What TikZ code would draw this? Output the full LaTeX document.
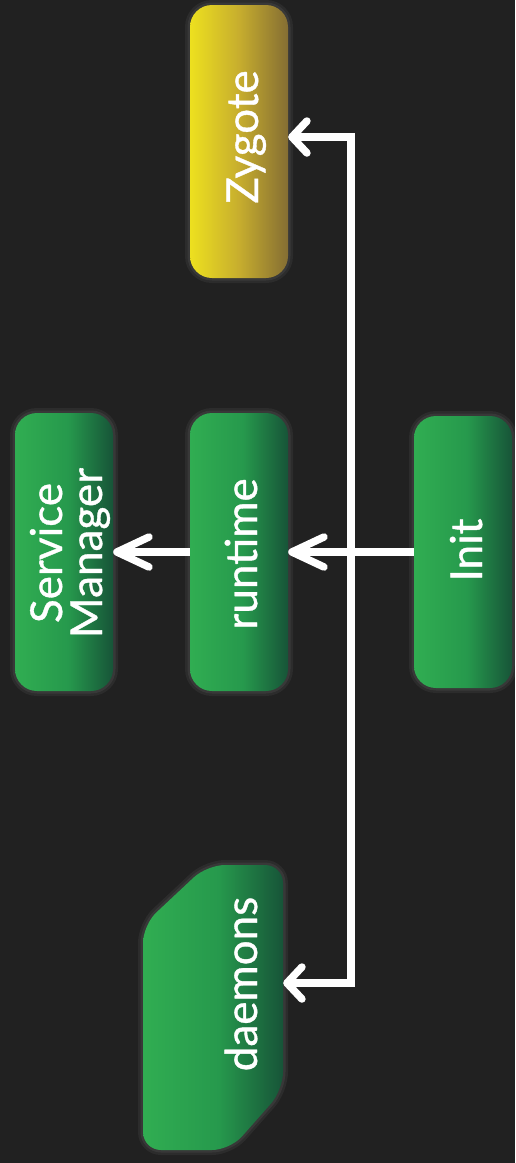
\documentclass[tikz,border=0pt]{standalone}
\usepackage{fontspec}
\setmainfont{Lato}
\newfontfamily\lblfont{Lato}[FakeBold=0.8]
\usetikzlibrary{arrows.meta}
\definecolor{bg}{RGB}{33,33,33}
\pgfdeclarehorizontalshading{greenbox}{100bp}{rgb(0bp)=(0.19,0.68,0.32); rgb(25bp)=(0.19,0.68,0.32); rgb(52bp)=(0.15,0.60,0.30); rgb(75bp)=(0.09,0.33,0.22); rgb(100bp)=(0.09,0.33,0.22)}
\pgfdeclarehorizontalshading{yellowbox}{100bp}{rgb(0bp)=(0.93,0.88,0.12); rgb(25bp)=(0.93,0.88,0.12); rgb(50bp)=(0.78,0.68,0.18); rgb(75bp)=(0.52,0.43,0.20); rgb(100bp)=(0.52,0.43,0.20)}
\tikzset{
  flatbarb/.tip={Straight Barb[length=15pt,width=32pt,round]},
  deepbarb/.tip={Straight Barb[length=32pt,width=30pt,round]},
  glow/.style={preaction={draw=white,draw opacity=0.05,line width=10pt},
               preaction={draw=white,draw opacity=0.06,line width=5pt}},
  box/.style={rectangle, rounded corners=22pt, minimum width=98pt, inner sep=0pt, glow},
  greenb/.style={box, shading=greenbox},
  yellowb/.style={box, shading=yellowbox},
  lbl/.style={text=white, font=\lblfont\fontsize{44}{40}\selectfont, rotate=90, anchor=base, align=center, inner sep=0pt},
  link/.style={draw=white, line width=7.5pt}
}
\begin{document}
\begin{tikzpicture}[x=1pt,y=-1pt]
\fill[bg] (0,0) rectangle (515,1163);
\useasboundingbox (0,0) rectangle (515,1163);
% boxes
\node[yellowb, minimum height=273pt] (zygote) at (239,141.5) {};
\node[greenb, minimum height=278pt] (sm) at (64,552) {};
\node[greenb, minimum height=278pt] (runtime) at (239,552) {};
\node[greenb, minimum height=272pt] (init) at (463,552) {};
\path[shading=greenbox, rounded corners=18pt, glow]
  (245,865) -- (283,865) -- (283,1090) -- (230,1150) -- (143,1150) -- (143,925) -- (207,865) -- cycle;
\node[minimum width=140pt, minimum height=285pt, inner sep=0pt] (daemons) at (213,1007.5) {};
% labels
\node[lbl] (zygotetext) at (258,137) {Zygote};
\node[lbl] (smtext) at (102,553) {Service\\Manager};
\node[lbl] (runtimetext) at (257,554) {runtime};
\node[lbl] (inittext) at (482,550) {Init};
\node[lbl] (daemonstext) at (257,984) {daemons};
% connectors
\coordinate (ttop) at (351,137);
\coordinate (tbot) at (351,983);
\draw[link, flatbarb-flatbarb] (zygote.east |- ttop) -- (ttop) -- (tbot) -- (daemons.east |- tbot);
\draw[link, -deepbarb] (init.west) -- (runtime.east);
\draw[link, -deepbarb] (runtime.west) -- (sm.east);
\end{tikzpicture}
\end{document}
